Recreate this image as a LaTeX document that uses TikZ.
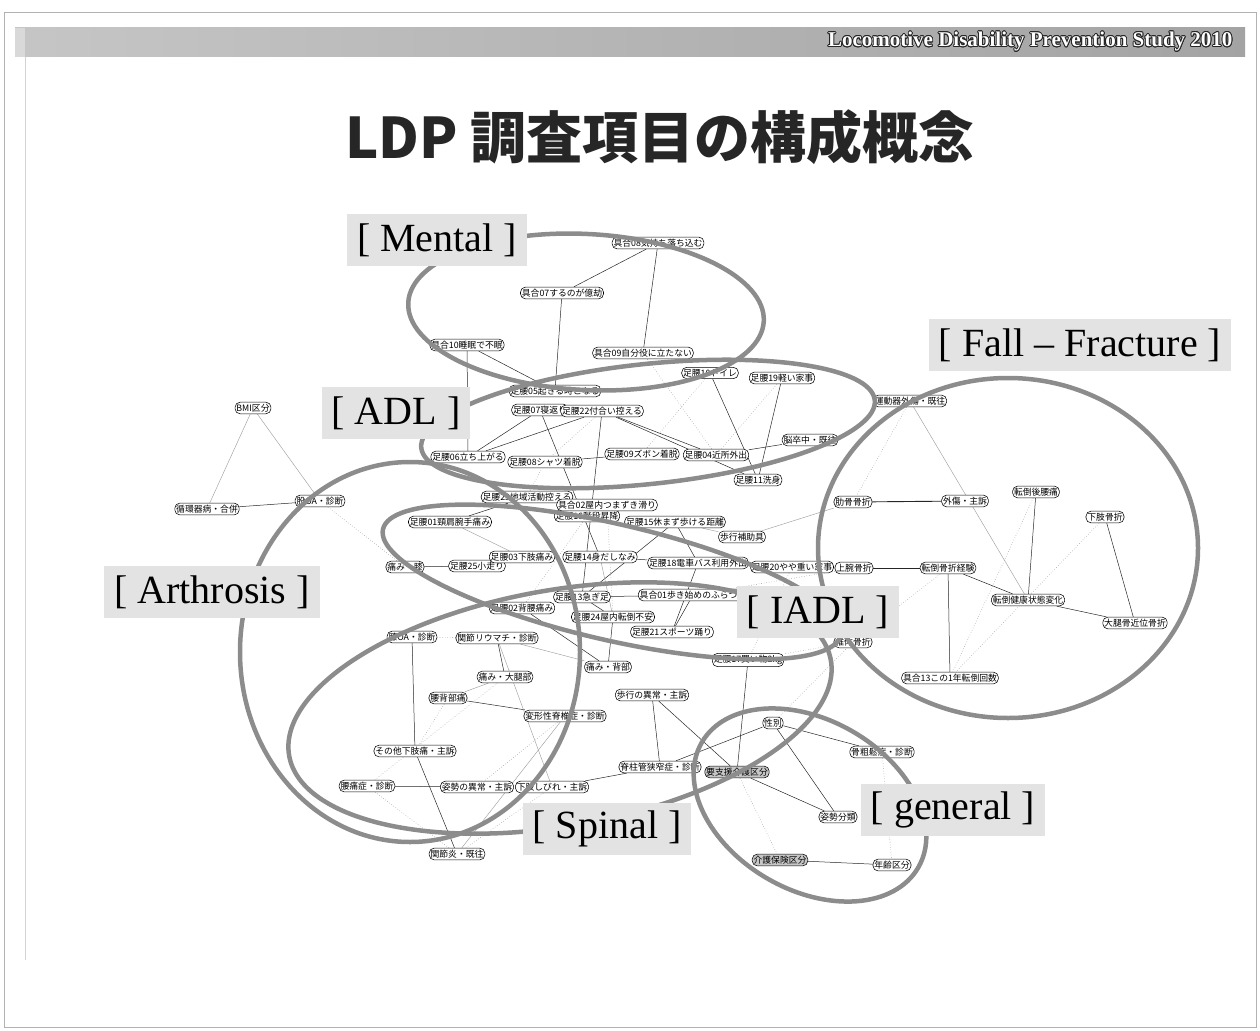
\documentclass[tikz,border=0pt]{standalone}
\usepackage{fontspec}
\setmainfont{Liberation Serif}
\newfontfamily\jp{Noto Sans CJK JP}
\usepackage[copies]{contour}
\contourlength{0.8pt}
\usetikzlibrary{backgrounds}

\pgfdeclarelayer{front}
\pgfsetlayers{background,main,front}

\tikzset{
  item/.style={draw, rounded corners=5pt, fill=white, inner xsep=1.4pt, inner ysep=1.8pt,
               line width=0.55pt, font=\jp\fontsize{8.8}{9}\selectfont},
  itemg/.style={item, fill=gray!45},
  lk/.style={black!85, line width=0.5pt},
  lg/.style={gray!75, line width=0.45pt},
  ld/.style={gray!80, line width=0.55pt, dotted},
  grp/.style={draw=black!45, line width=4.5pt},
  grplab/.style={fill=gray!22, inner xsep=10pt, minimum height=52pt,
                 font=\fontsize{40}{42}\selectfont}
}

\begin{document}
\begin{tikzpicture}[x=1pt, y=-1pt]
    \useasboundingbox (0,0) rectangle (1260,1030);

    % slide frame and header
    \draw[gray!60, line width=0.6pt] (4,12) rectangle (1256,1027);
    \fill[left color=gray!45, right color=gray!72] (15,28) rectangle (1245,57);
    \fill[gray!30] (15,28) rectangle (25,57);
    \draw[gray!35, line width=0.5pt] (25,57) -- (25,960);
    \node[anchor=east, text=white, font=\bfseries\fontsize{21}{22}\selectfont] (hdr) at (1236,42)
        {\contour{black!85}{Locomotive Disability Prevention Study 2010}};
    \node[font=\jp\bfseries\fontsize{56}{60}\selectfont, text=black!85] (title) at (660,137)
        {LDP 調査項目の構成概念};

    % Mental items
    \node[item] (g08) at (658,243) {具合08気持ち落ち込む};
    \node[item] (g07) at (562,293) {具合07するのが億劫};
    \node[item] (g10) at (467,345) {具合10睡眠で不眠};
    \node[item] (g09) at (643,353) {具合09自分役に立たない};

    % ADL items
    \node[item] (a05) at (555,391) {足腰05起きる時こなる};
    \node[item] (a07) at (540,410) {足腰07寝返り};
    \node[item] (a22) at (602,411) {足腰22付合い控える};
    \node[item] (a10) at (710,373) {足腰10トイレ};
    \node[item] (a19) at (782,378) {足腰19軽い家事};
    \node[item] (nsc) at (810,440) {脳卒中・既往};
    \node[item] (a04) at (716,455) {足腰04近所外出};
    \node[item] (a09) at (642,454) {足腰09ズボン着脱};
    \node[item] (a11) at (758,480) {足腰11洗身};
    \node[item] (a06) at (468,457) {足腰06立ち上がる};
    \node[item] (a08) at (545,462) {足腰08シャツ着脱};

    % IADL and pain items
    \node[item] (a16) at (587,516) {足腰16階段昇降};
    \node[item] (a23) at (527,497) {足腰23地域活動控える};
    \node[item] (g02) at (607,505) {具合02屋内つまずき滑り};
    \node[item] (a15) at (675,522) {足腰15休まず歩ける距離};
    \node[item] (a01) at (450,522) {足腰01頸肩腕手痛み};
    \node[item] (ita) at (405,567) {痛み・膝};
    \node[item] (a25) at (477,566) {足腰25小走り};
    \node[item] (a03) at (522,557) {足腰03下肢痛み};
    \node[item] (a14) at (600,557) {足腰14身だしなみ};
    \node[item] (a18) at (698,563) {足腰18電車バス利用外出};
    \node[item] (a20) at (792,567) {足腰20やや重い家事};
    \node[item] (hoj) at (742,537) {歩行補助具};
    \node[item] (g01) at (693,595) {具合01歩き始めのふらつき};
    \node[item] (a13) at (582,597) {足腰13急ぎ足};
    \node[item] (a02) at (522,608) {足腰02背腰痛み};
    \node[item] (a24) at (613,617) {足腰24屋内転倒不安};
    \node[item] (a21) at (672,632) {足腰21スポーツ踊り};
    \node[item] (a17) at (748,660) {足腰17買い物2kg};

    % Arthrosis / Spinal items
    \node[item] (bmi) at (253,408) {BMI区分};
    \node[item] (jun) at (207,509) {循環器病・合併};
    \node[item] (koa) at (320,501) {股OA・診断};
    \node[item] (hoa) at (412,637) {膝OA・診断};
    \node[item] (ra)  at (497,638) {関節リウマチ・診断};
    \node[item] (ise) at (608,667) {痛み・背部};
    \node[item] (idt) at (505,677) {痛み・大腿部};
    \node[item] (ysb) at (448,698) {腰背部痛};
    \node[item] (hok) at (652,695) {歩行の異常・主訴};
    \node[item] (hks) at (565,716) {変形性脊椎症・診断};
    \node[item] (sot) at (415,751) {その他下肢痛・主訴};
    \node[item] (ytu) at (367,786) {腰痛症・診断};
    \node[item] (sij) at (477,787) {姿勢の異常・主訴};
    \node[item] (ksb) at (552,787) {下肢しびれ・主訴};
    \node[item] (kan) at (457,854) {関節炎・既往};

    % general items
    \node[item]  (sek) at (660,767) {脊柱管狭窄症・診断};
    \node[itemg] (yos) at (737,772) {要支援介護区分};
    \node[item]  (sei) at (773,723) {性別};
    \node[item]  (kos) at (882,752) {骨粗鬆症・診断};
    \node[item]  (sib) at (838,817) {姿勢分類};
    \node[itemg] (kai) at (780,860) {介護保険区分};
    \node[item]  (nen) at (892,865) {年齢区分};

    % Fall - Fracture items
    \node[item] (und) at (910,401) {運動器外傷・既往};
    \node[item] (rok) at (853,502) {肋骨骨折};
    \node[item] (gai) at (965,501) {外傷・主訴};
    \node[item] (tyt) at (1036,492) {転倒後腰痛};
    \node[item] (kas) at (1105,517) {下肢骨折};
    \node[item] (jow) at (854,568) {上腕骨折};
    \node[item] (tke) at (948,568) {転倒骨折経験};
    \node[item] (tkj) at (1028,600) {転倒健康状態変化};
    \node[item] (dai) at (1135,623) {大腿骨近位骨折};
    \node[item] (tsu) at (853,642) {椎体骨折};
    \node[item] (g13) at (950,678) {具合13この1年転倒回数};

    % links
    \begin{pgfonlayer}{background}
        \foreach \a/\b in {g08/g07, g08/g09, g07/a05, g10/a06, g10/a05, a10/a11, a19/a11,
                           a07/a06, a22/a06, a22/a04, a22/a11, a08/a09, nsc/a04, a07/a14,
                           a22/a13, a23/a01, a14/a18, ita/a25, a03/a25, a13/g01, a13/a24,
                           a24/ise, a02/ise, ra/idt, hoa/sot, ysb/hks, ytu/sij, sot/kan,
                           ksb/sek, hok/sek, hok/yos, sei/sek, sei/kos, sei/sib, yos/sib,
                           kai/nen, koa/jun, tyt/tkj, kas/dai, jow/tke, tke/tkj, tke/g13,
                           tkj/dai, a15/a13, a18/a21, g01/a21, a17/yos, a15/a18}
            \draw[lk] (\a) -- (\b);
        \draw[lk, line width=0.9pt] (rok) -- (gai);
        \foreach \a/\b in {bmi/jun, bmi/koa, rok/hoj, und/tkj, a15/hoj, ra/ise, a03/a01,
                           ysb/idt, a14/a24, ksb/ra, kan/hks}
            \draw[lg] (\a) -- (\b);
        \foreach \a/\b in {a10/a09, a19/a04, a22/a08, koa/ita, idt/ytu, ytu/kan, ysb/sot,
                           hks/sij, ksb/kan, yos/kai, sei/tsu, und/rok, tyt/g13, kas/g13,
                           tke/tsu, kos/nen, g09/a04, a23/a08, g02/a24, jow/g01, tsu/a17,
                           a16/a02, hoa/ra, a20/a17}
            \draw[ld] (\a) -- (\b);
    \end{pgfonlayer}

    % concept groups
    \begin{pgfonlayer}{front}
        \draw[grp, rotate around={-3:(586,312)}] (586,312) ellipse [x radius=178, y radius=78];
        \draw[grp, rotate around={6:(648,424)}] (648,424) ellipse [x radius=228, y radius=60];
        \draw[grp] (1008,548) ellipse [x radius=190, y radius=170];
        \draw[grp] (410,652) ellipse [x radius=170, y radius=190];
        \draw[grp, rotate around={-13:(612,582)}] (612,582) ellipse [x radius=235, y radius=58];
        \draw[grp, rotate around={10:(560,708)}] (560,708) ellipse [x radius=275, y radius=118];
        \draw[grp, rotate around={-30:(810,805)}] (810,805) ellipse [x radius=125, y radius=85];

        \node[grplab] (lmen) at (437,240) {[ Mental ]};
        \node[grplab] (ladl) at (396,413) {[ ADL ]};
        \node[grplab] (lfal) at (1080,345) {[ Fall -- Fracture ]};
        \node[grplab] (lart) at (212,592) {[ Arthrosis ]};
        \node[grplab] (liad) at (818,612) {[ IADL ]};
        \node[grplab] (lspi) at (607,829) {[ Spinal ]};
        \node[grplab] (lgen) at (953,810) {[ general ]};
    \end{pgfonlayer}
\end{tikzpicture}
\end{document}
